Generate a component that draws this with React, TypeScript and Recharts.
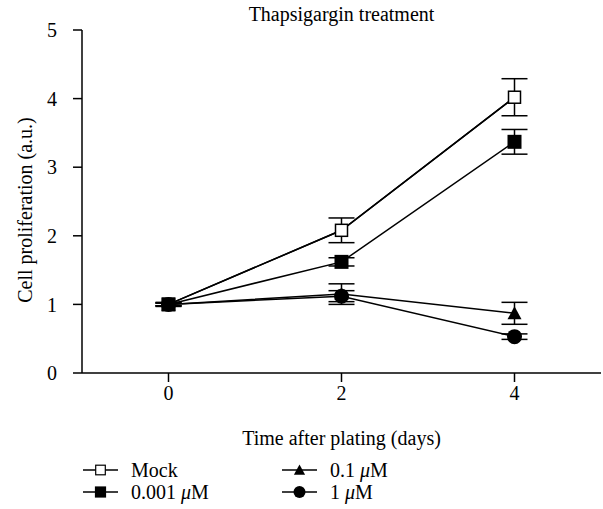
import React from "react";
import { ErrorBar, Legend, Line, LineChart, XAxis, YAxis } from "recharts";

const days = [0, 2, 4];
const mock = [1.0, 2.08, 4.02];
const mockErr = [0.03, 0.18, 0.27];
const low = [1.0, 1.62, 3.37];
const lowErr = [0.02, 0.06, 0.18];
const mid = [1.0, 1.15, 0.87];
const midErr = [0.02, 0.15, 0.16];
const high = [1.0, 1.12, 0.53];
const highErr = [0.02, 0.08, 0.04];
const yTicks = [0, 1, 2, 3, 4, 5];
const xTicks = [0, 2, 4];

const data = days.map((day, i) => ({
  day,
  mock: mock[i],
  mockErr: mockErr[i],
  low: low[i],
  lowErr: lowErr[i],
  mid: mid[i],
  midErr: midErr[i],
  high: high[i],
  highErr: highErr[i],
}));

const FONT = "Liberation Serif, Times New Roman, DejaVu Serif, serif";
const FS = 20;
const INK = "#000";

type Kind = "open" | "square" | "triangle" | "circle";

function Marker({ kind, cx, cy }: { kind: Kind; cx: number; cy: number }) {
  const s = 7;
  if (kind === "open")
    return <rect x={cx - s + 1} y={cy - s + 1} width={2 * s - 2} height={2 * s - 2} fill="#fff" stroke={INK} strokeWidth={1.5} />;
  if (kind === "square")
    return <rect x={cx - s} y={cy - s} width={2 * s} height={2 * s} fill={INK} />;
  if (kind === "triangle")
    return <polygon points={`${cx},${cy - s} ${cx + s},${cy + s - 1} ${cx - s},${cy + s - 1}`} fill={INK} />;
  return <circle cx={cx} cy={cy} r={7.5} fill={INK} />;
}

const dot = (kind: Kind) => (p: any) =>
  <Marker key={`${kind}-${p.index}`} kind={kind} cx={p.cx} cy={p.cy} />;

const series: { key: string; name: string; kind: Kind }[] = [
  { key: "mock", name: "Mock", kind: "open" },
  { key: "low", name: "0.001 \u03bcM", kind: "square" },
  { key: "mid", name: "0.1 \u03bcM", kind: "triangle" },
  { key: "high", name: "1 \u03bcM", kind: "circle" },
];

function LegendBox() {
  const pos = [
    { x: 83, y: 10 },
    { x: 83, y: 32 },
    { x: 282, y: 10 },
    { x: 282, y: 32 },
  ];
  return (
    <div style={{ position: "relative", width: 601, height: 46, fontFamily: FONT, fontSize: FS }}>
      {series.map((s, i) => (
        <div key={s.key} style={{ position: "absolute", left: pos[i].x, top: pos[i].y - 11, height: 22, display: "flex", alignItems: "center" }}>
          <svg width={36} height={22} style={{ display: "block" }}>
            <line x1={0} y1={11} x2={35} y2={11} stroke={INK} strokeWidth={1.5} />
            <g transform="translate(17.5 11) scale(0.8) translate(-17.5 -11)">
              <Marker kind={s.kind} cx={17.5} cy={11} />
            </g>
          </svg>
          <span style={{ marginLeft: 12, whiteSpace: "nowrap" }}>
            {s.name.replace(" \u03bcM", "")}
            {s.name.includes("\u03bcM") ? <> <i>{"\u03bc"}</i>M</> : null}
          </span>
        </div>
      ))}
    </div>
  );
}

export default function App() {
  return (
    <div style={{ position: "absolute", left: 0, top: 0, width: 603, height: 509, background: "#fff" }}>
      <div style={{ position: "absolute", left: 82, width: 519, top: 3, textAlign: "center", fontFamily: FONT, fontSize: FS }}>
        Thapsigargin treatment
      </div>
      <LineChart width={603} height={509} data={data} margin={{ top: 30, right: 2, left: 0, bottom: 3 }}>
        <XAxis
          dataKey="day"
          type="number"
          domain={[-1, 5]}
          ticks={xTicks}
          height={87}
          tickSize={9}
          tickMargin={4}
          stroke={INK}
          strokeWidth={1.5}
          tick={{ fill: INK, fontFamily: FONT, fontSize: FS }}
          label={{ value: "Time after plating (days)", position: "insideBottom", offset: 15, fill: INK, fontFamily: FONT, fontSize: FS }}
        />
        <YAxis
          type="number"
          domain={[0, 5]}
          ticks={yTicks}
          width={82}
          tickSize={9}
          tickMargin={16}
          stroke={INK}
          strokeWidth={1.5}
          tick={{ fill: INK, fontFamily: FONT, fontSize: FS }}
          label={{
            content: () => (
              <text x={25} y={210} transform="rotate(-90 25 210)" textAnchor="middle" dominantBaseline="central" fill={INK} fontFamily={FONT} fontSize={FS}>
                Cell proliferation (a.u.)
              </text>
            ),
          }}
        />
        <Legend verticalAlign="bottom" content={() => <LegendBox />} />
        {series.map((s) => (
          <Line
            key={s.key}
            dataKey={s.key}
            name={s.name}
            stroke={INK}
            strokeWidth={1.5}
            dot={dot(s.kind)}
            activeDot={false}
            isAnimationActive={false}
          >
            <ErrorBar dataKey={`${s.key}Err`} direction="y" width={13} stroke={INK} strokeWidth={1.5} />
          </Line>
        ))}
        <Line dataKey="mock" stroke={INK} strokeWidth={1.5} dot={false} activeDot={false} legendType="none" isAnimationActive={false} />
      </LineChart>
    </div>
  );
}
